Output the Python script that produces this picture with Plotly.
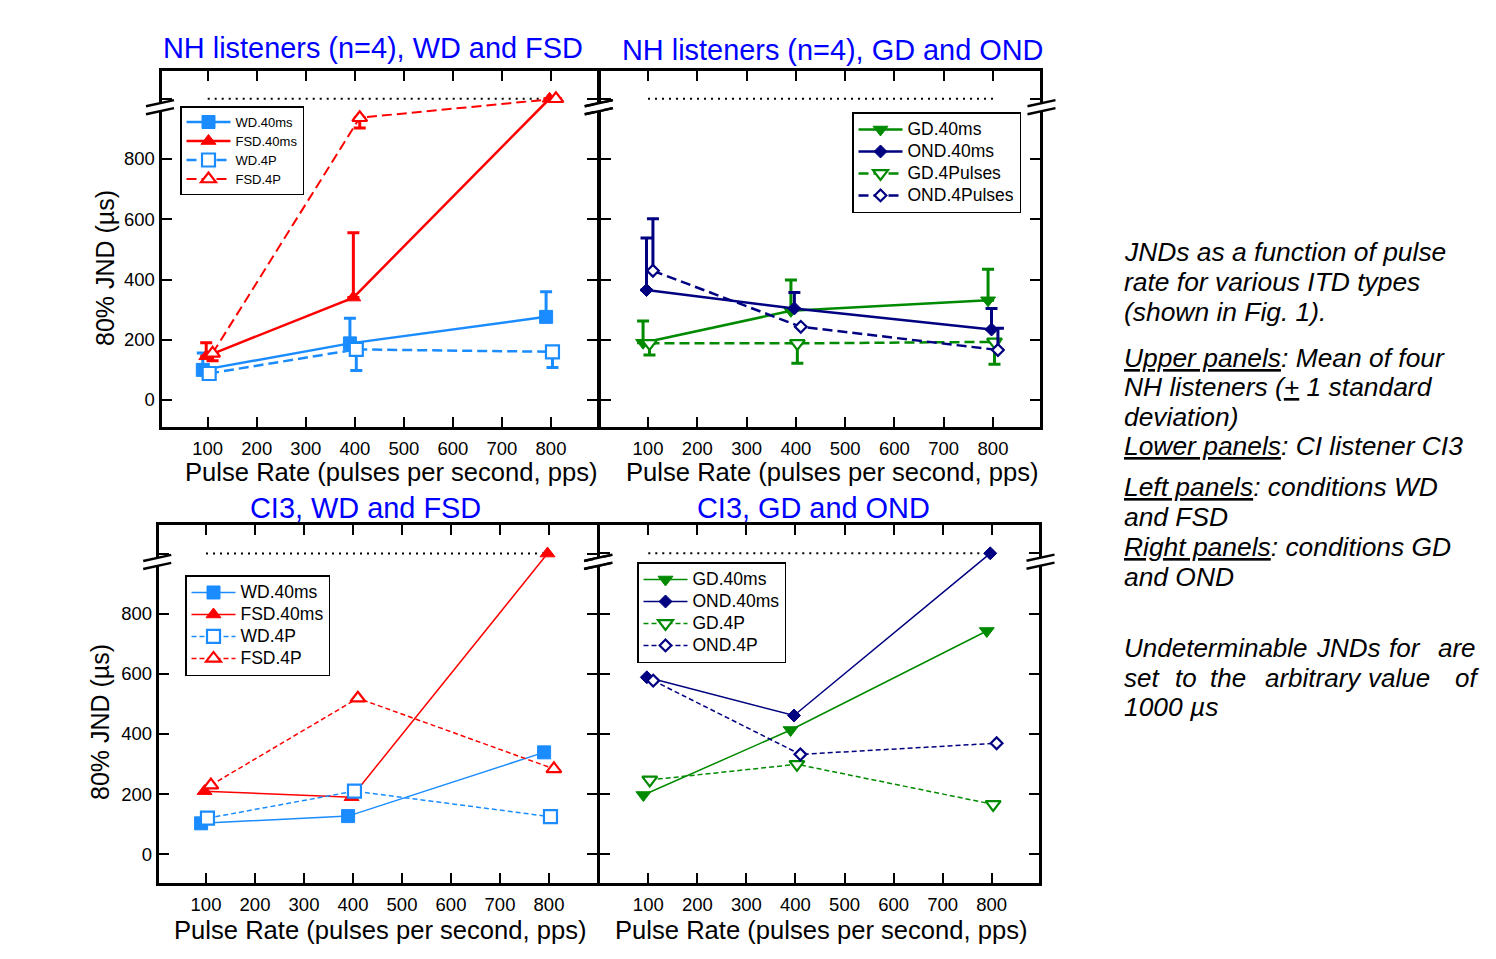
import plotly.graph_objects as go

W, H = 1496, 959
FONT = "Liberation Sans, Arial, sans-serif"

# ---------------- data ----------------
RATES = [100, 400, 800]
X_TICKS = [100, 200, 300, 400, 500, 600, 700, 800]
Y_TICKS = [0, 200, 400, 600, 800, 1000]
Y_TICKTEXT = ["0", "200", "400", "600", "800", ""]
CEILING = 1000          # undeterminable JNDs set to 1000 us
BREAK_VALUE = 972       # where the axis break is drawn
DODGE = [-10, -3, 3, 10]  # horizontal offsets of the four series (pps)

# NH listeners (n=4), WD and FSD  (means, one-sided SD)
NH_WD_40MS = [100, 188, 276]
NH_WD_40MS_UP = [56, 83, 83]
NH_FSD_40MS = [145, 340, 1000]
NH_FSD_40MS_UP = [45, 215, 0]
NH_WD_4P = [88, 168, 160]
NH_WD_4P_DOWN = [0, 70, 52]
NH_FSD_4P = [155, 937, 1000]
NH_FSD_4P_DOWN = [25, 34, 0]

# NH listeners (n=4), GD and OND
NH_GD_40MS = [190, 296, 331]
NH_GD_40MS_UP = [72, 102, 103]
NH_OND_40MS = [365, 304, 234]
NH_OND_40MS_UP = [173, 53, 70]
NH_GD_4P = [188, 188, 193]
NH_GD_4P_DOWN = [39, 66, 74]
NH_OND_4P = [429, 243, 166]
NH_OND_4P_UP = [173, 0, 72]

# CI3, WD and FSD
CI_WD_40MS = [103, 127, 339]
CI_FSD_40MS = [210, 190, 1000]
CI_WD_4P = [120, 210, 125]
CI_FSD_4P = [230, 519, 284]

# CI3, GD and OND
CI_GD_40MS = [197, 413, 742]
CI_OND_40MS = [588, 461, 1000]
CI_GD_4P = [247, 299, 166]
CI_OND_4P = [577, 332, 369]

BLUE = "#1a8cff"
RED = "#ff0000"
GREEN = "#008a00"
NAVY = "#000080"
TITLE_BLUE = "#0000ff"

# ---------------- panel geometry (pixels) ----------------
PANELS = {
    "TL": dict(l=160, r=598.5, t=69, b=428.7, x100=207.7, x800=551.0, y0=400.0, y800=159.0),
    "TR": dict(l=599, r=1041.5, t=69, b=428.7, x100=648.0, x800=993.0, y0=400.0, y800=159.0),
    "BL": dict(l=157.2, r=598, t=523.5, b=884, x100=206.0, x800=549.0, y0=854.3, y800=613.7),
    "BR": dict(l=598.5, r=1040.5, t=523.5, b=884, x100=648.3, x800=991.7, y0=854.3, y800=613.5),
}
LW = 3  # frame width


def ranges(p):
    a, b = p["l"] + LW / 2, p["r"] - LW / 2
    t, bt = p["t"] + LW / 2, p["b"] - LW / 2
    kx = (p["x800"] - p["x100"]) / 700.0
    xr = [100 - (p["x100"] - a) / kx, 100 + (b - p["x100"]) / kx]
    ky = (p["y0"] - p["y800"]) / 800.0
    yr = [(p["y0"] - bt) / ky, (p["y0"] - t) / ky]
    return [a / W, b / W], [1 - bt / H, 1 - t / H], xr, yr, ky


fig = go.Figure()
layout = dict(
    width=W, height=H, autosize=False,
    margin=dict(l=0, r=0, t=0, b=0),
    paper_bgcolor="white", plot_bgcolor="white",
    font=dict(family=FONT, color="black"),
    showlegend=True,
)

axis_ids = {"TL": ("x", "y", ""), "TR": ("x2", "y2", "2"), "BL": ("x3", "y3", "3"), "BR": ("x4", "y4", "4")}
geom = {}
for key, p in PANELS.items():
    xd, yd, xr, yr, ky = ranges(p)
    xa, ya, s = axis_ids[key]
    geom[key] = dict(ky=ky, **p)
    layout["xaxis" + s] = dict(
        domain=xd, range=xr, anchor=ya, tickvals=X_TICKS, ticks="inside", ticklen=10,
        tickwidth=2, tickcolor="black", showline=True, linecolor="black", linewidth=LW,
        mirror="ticks", showgrid=False, zeroline=False, fixedrange=True, ticklabelstandoff=3,
        tickfont=dict(family=FONT, size=18.5, color="black"))
    layout["yaxis" + s] = dict(
        domain=yd, range=yr, anchor=xa, tickvals=Y_TICKS, ticktext=Y_TICKTEXT,
        ticks="inside", ticklen=10, tickwidth=2, tickcolor="black", showline=True,
        linecolor="black", linewidth=LW, mirror="ticks", showgrid=False, zeroline=False,
        fixedrange=True, showticklabels=key in ("TL", "BL"),
        tickfont=dict(family=FONT, size=18.5, color="black"))

fig.update_layout(**layout)

LEGEND_TEXT_PX = {"legend": 13, "legend2": 17.5, "legend3": 17.5, "legend4": 17.5}


def add_series(panel, legend, name, vals, color, symbol, filled, dash, lw, idx,
               msize, up=None, down=None, ethick=3):
    xa, ya, _ = axis_ids[panel]
    x = [r + DODGE[idx] for r in RATES]
    if filled:
        marker = dict(symbol=symbol, size=msize, color=color, line=dict(color=color, width=1))
    else:
        marker = dict(symbol=symbol, size=msize, color="white", line=dict(color=color, width=2.2))
    err = None
    if up is not None or down is not None:
        err = dict(type="data", symmetric=False,
                   array=up if up is not None else [0, 0, 0],
                   arrayminus=down if down is not None else [0, 0, 0],
                   color=color, thickness=ethick, width=6)
    label = f'<span style="font-size:{LEGEND_TEXT_PX[legend]}px">{name}</span>'
    fig.add_trace(go.Scatter(
        x=x, y=vals, name=label, mode="lines+markers", xaxis=xa, yaxis=ya,
        line=dict(color=color, width=lw, dash=dash), marker=marker,
        error_y=err, legend=legend, legendgroup=panel + name, cliponaxis=False))


DASH_TOP = "10px,5px"
DASH_BOT = "5px,3px"

# Top-left
add_series("TL", "legend", "WD.40ms", NH_WD_40MS, BLUE, "square", True, "solid", 2.5, 0, 13, up=NH_WD_40MS_UP)
add_series("TL", "legend", "FSD.40ms", NH_FSD_40MS, RED, "triangle-up", True, "solid", 2.5, 1, 13, up=NH_FSD_40MS_UP)
add_series("TL", "legend", "WD.4P", NH_WD_4P, BLUE, "square", False, DASH_TOP, 2.5, 2, 13, down=NH_WD_4P_DOWN)
add_series("TL", "legend", "FSD.4P", NH_FSD_4P, RED, "triangle-up", False, DASH_TOP, 2, 3, 13, down=NH_FSD_4P_DOWN)
# Top-right
add_series("TR", "legend2", "GD.40ms", NH_GD_40MS, GREEN, "triangle-down", True, "solid", 2.5, 0, 13, up=NH_GD_40MS_UP)
add_series("TR", "legend2", "OND.40ms", NH_OND_40MS, NAVY, "diamond", True, "solid", 2.5, 1, 10, up=NH_OND_40MS_UP)
add_series("TR", "legend2", "GD.4Pulses", NH_GD_4P, GREEN, "triangle-down", False, DASH_TOP, 2.5, 2, 13, down=NH_GD_4P_DOWN)
add_series("TR", "legend2", "OND.4Pulses", NH_OND_4P, NAVY, "diamond", False, DASH_TOP, 2.5, 3, 9, up=NH_OND_4P_UP)
# Bottom-left
add_series("BL", "legend3", "WD.40ms", CI_WD_40MS, BLUE, "square", True, "solid", 1.5, 0, 13)
add_series("BL", "legend3", "FSD.40ms", CI_FSD_40MS, RED, "triangle-up", True, "solid", 1.5, 1, 13)
add_series("BL", "legend3", "WD.4P", CI_WD_4P, BLUE, "square", False, DASH_BOT, 1.5, 2, 13)
add_series("BL", "legend3", "FSD.4P", CI_FSD_4P, RED, "triangle-up", False, DASH_BOT, 1.5, 3, 13)
# Bottom-right
add_series("BR", "legend4", "GD.40ms", CI_GD_40MS, GREEN, "triangle-down", True, "solid", 1.5, 0, 13)
add_series("BR", "legend4", "OND.40ms", CI_OND_40MS, NAVY, "diamond", True, "solid", 1.5, 1, 10)
add_series("BR", "legend4", "GD.4P", CI_GD_4P, GREEN, "triangle-down", False, DASH_BOT, 1.5, 2, 13)
add_series("BR", "legend4", "OND.4P", CI_OND_4P, NAVY, "diamond", False, DASH_BOT, 1.5, 3, 9)


def legend_box(x, y, size):
    # size controls row height (1.3*size + 3); the text itself is sized via span
    return dict(x=x / W, y=1 - y / H, xanchor="left", yanchor="top", bgcolor="white",
                bordercolor="black", borderwidth=1.5, itemwidth=44, tracegroupgap=0,
                font=dict(family=FONT, size=size, color="black"), itemclick=False,
                itemdoubleclick=False)


fig.update_layout(
    legend=legend_box(180, 106, 12.1),
    legend2=legend_box(852, 112, 14.6),
    legend3=legend_box(185, 575, 14.6),
    legend4=legend_box(637, 562, 14.6),
)

# dotted "undeterminable" reference line
for key in PANELS:
    xa, ya, _ = axis_ids[key]
    fig.add_shape(type="line", xref=xa, yref=ya, x0=RATES[0], x1=RATES[-1], y0=CEILING, y1=CEILING,
                  line=dict(color="black", width=2, dash="2px,5px"), layer="below")


# axis breaks
def add_break(ex, cy):
    s, half, g = 0.22, 14, 4
    yU = lambda x: cy - g - s * (x - ex)
    yL = lambda x: cy + g - s * (x - ex)
    px = lambda v: v / W
    py = lambda v: 1 - v / H
    path = (f"M{px(ex-5)},{py(yU(ex-5))} L{px(ex+5)},{py(yU(ex+5))} "
            f"L{px(ex+5)},{py(yL(ex+5))} L{px(ex-5)},{py(yL(ex-5))} Z")
    fig.add_shape(type="path", path=path, xref="paper", yref="paper", fillcolor="white",
                  line=dict(width=0), layer="above")
    for f in (yU, yL):
        fig.add_shape(type="line", xref="paper", yref="paper", x0=px(ex - half), y0=py(f(ex - half)),
                      x1=px(ex + half), y1=py(f(ex + half)), line=dict(color="black", width=2.5),
                      layer="above")


for key, g in geom.items():
    cy = g["y0"] - BREAK_VALUE * g["ky"]
    add_break(g["l"], cy)
    add_break(g["r"], cy)


def ann(x, y, text, size, color="black", angle=0, anchor="center"):
    fig.add_annotation(x=x / W, y=1 - y / H, xref="paper", yref="paper", text=text,
                       showarrow=False, xanchor=anchor, yanchor="middle", textangle=angle,
                       font=dict(family=FONT, size=size, color=color))


# panel titles
ann(373, 48, "NH listeners (n=4), WD and FSD", 28.9, TITLE_BLUE)
ann(833, 50, "NH listeners (n=4), GD and OND", 28.9, TITLE_BLUE)
ann(365, 508, "CI3, WD and FSD", 28.9, TITLE_BLUE)
ann(814, 508, "CI3, GD and OND", 28.9, TITLE_BLUE)

# axis titles
XT = "Pulse Rate (pulses per second, pps)"
ann(391, 472, XT, 25.6)
ann(832, 472, XT, 25.6)
ann(380, 930, XT, 25.6)
ann(821, 930, XT, 25.6)
ann(105, 268, "80% JND (µs)", 25, angle=-90)
ann(100, 722, "80% JND (µs)", 25, angle=-90)

# side text
SIDE_X = 1122
SIDE_SIZE = 26.4
SIDE = [
    (252, "JNDs as a function of pulse"),
    (282, "rate for various ITD types"),
    (312, "(shown in Fig. 1)."),
    (358, "<u>Upper panels</u>: Mean of four"),
    (387, "NH listeners (<u>+</u> 1 standard"),
    (417, "deviation)"),
    (446, "<u>Lower panels</u>: CI listener CI3"),
    (487, "<u>Left panels</u>: conditions WD"),
    (517, "and FSD"),
    (547, "<u>Right panels</u>: conditions GD"),
    (577, "and OND"),
    (707, "1000 µs"),
]
for y, t in SIDE:
    ann(SIDE_X, y, "<i>" + t + "</i>", SIDE_SIZE, anchor="left")

JUSTIFIED = [
    (648, [(1125, "Undeterminable"), (1317, "JNDs"), (1390, "for"), (1439, "are")]),
    (678, [(1125, "set"), (1176, "to"), (1211, "the"), (1266, "arbitrary"), (1369, "value"), (1456, "of")]),
]
for y, words in JUSTIFIED:
    for x, w in words:
        ann(x - 3, y, "<i>" + w + "</i>", 26, anchor="left")

fig.write_html("out.html", config={"displayModeBar": False},
               post_script="document.body.style.margin='0';document.body.style.overflow='hidden';")
